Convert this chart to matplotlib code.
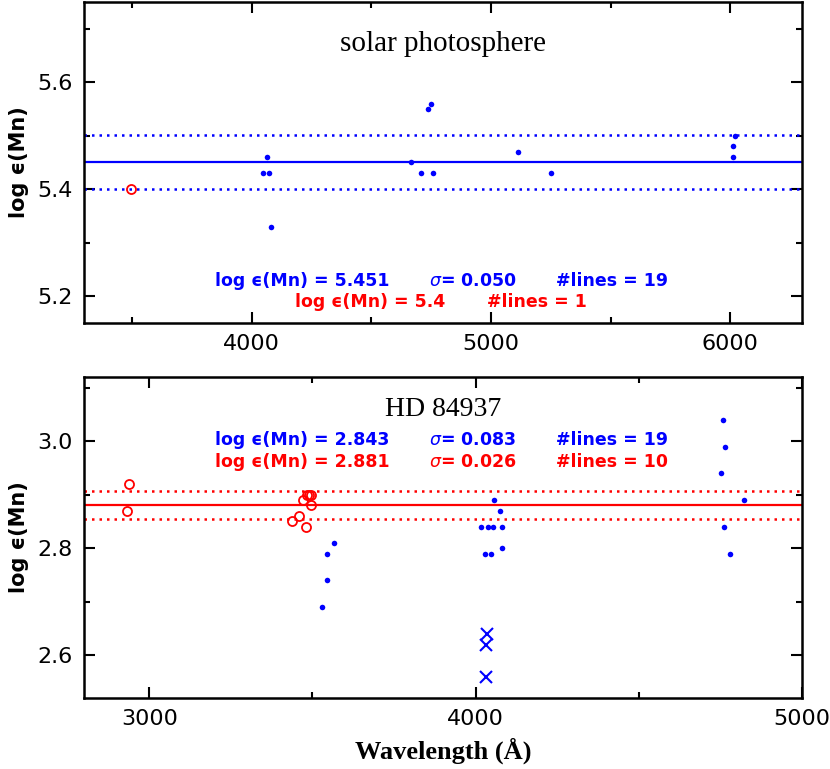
"""
Mn abundances vs wavelength - solar photosphere and HD 84937
"""
import matplotlib.pyplot as plt

# solar photosphere: Mn I (blue dots), Mn II (red circles)
sun_mn1_wave = [4049, 4066, 4074, 4080, 4666, 4707, 4736, 4750, 4760,
                5115, 5252, 6011, 6013, 6018]
sun_mn1_abund = [5.43, 5.46, 5.43, 5.33, 5.45, 5.43, 5.55, 5.56, 5.43,
                 5.47, 5.43, 5.48, 5.46, 5.50]
sun_mn2_wave = [3497]
sun_mn2_abund = [5.40]
sun_mean, sun_sigma = 5.451, 0.050

# HD 84937
hd_mn1_wave = [3529, 3545, 3545, 3566, 4015, 4030, 4037, 4046, 4054, 4057,
               4076, 4081, 4081, 4751, 4759, 4760, 4764, 4780, 4821]
hd_mn1_abund = [2.69, 2.74, 2.79, 2.81, 2.84, 2.79, 2.84, 2.79, 2.84, 2.89,
                2.87, 2.84, 2.80, 2.94, 3.04, 2.84, 2.99, 2.79, 2.89]
hd_res_wave = [4031, 4033, 4034]          # resonance triplet, excluded
hd_res_abund = [2.56, 2.62, 2.64]
hd_mn2_wave = [2931, 2937, 3438, 3458, 3470, 3480, 3482, 3488, 3494, 3494]
hd_mn2_abund = [2.87, 2.92, 2.85, 2.86, 2.89, 2.84, 2.90, 2.90, 2.90, 2.88]
hd_mean, hd_sigma = 2.881, 0.026

sun_texts = [("log ϵ(Mn) = 5.451", r"$\sigma$= 0.050", "#lines = 19"),
             ("log ϵ(Mn) = 5.4", None, "#lines = 1")]
hd_texts = [("log ϵ(Mn) = 2.843", r"$\sigma$= 0.083", "#lines = 19"),
            ("log ϵ(Mn) = 2.881", r"$\sigma$= 0.026", "#lines = 10")]

BLUE = '#0000ff'
RED = '#ff0000'
DOT = (0, (1, 2))
TXT = dict(fontsize=12.5, fontweight='bold', va='center')

fig = plt.figure(figsize=(8.3, 7.69), dpi=100)
ax1 = fig.add_axes([0.1012, 0.5800, 0.8651, 0.4174])
ax2 = fig.add_axes([0.1012, 0.0923, 0.8651, 0.4175])


def style(ax):
    ax.tick_params(which='both', direction='in', top=True, right=True,
                   width=1.5, labelsize=16, pad=8)
    ax.tick_params(which='major', length=8)
    ax.tick_params(which='minor', length=4)
    for s in ax.spines.values():
        s.set_linewidth(1.8)
    ax.set_ylabel('log ϵ(Mn)', fontsize=15, fontweight='bold', labelpad=6)


# --- top: solar photosphere
ax1.axhline(sun_mean, color=BLUE, lw=1.6)
ax1.axhline(sun_mean + sun_sigma, color=BLUE, lw=1.8, ls=DOT)
ax1.axhline(sun_mean - sun_sigma, color=BLUE, lw=1.8, ls=DOT)
ax1.plot(sun_mn1_wave, sun_mn1_abund, 'o', color=BLUE, ms=4, mew=0)
ax1.plot(sun_mn2_wave, sun_mn2_abund, 'o', mfc='none', mec=RED, ms=6.5, mew=1.3)
ax1.set_xlim(3300, 6300)
ax1.set_ylim(5.15, 5.75)
ax1.set_xticks([4000, 5000, 6000])
ax1.set_xticks([3500, 4500, 5500], minor=True)
ax1.set_yticks([5.2, 5.4, 5.6])
ax1.set_yticks([5.3, 5.5, 5.7], minor=True)
style(ax1)
ax1.text(0.5, 0.869, 'solar photosphere', transform=ax1.transAxes,
         ha='center', va='center', fontsize=21, family='Liberation Serif')
for (a, b, c), yy, col, xs in zip(sun_texts, [0.132, 0.066], [BLUE, RED],
                                  [(0.1825, 0.4805, 0.657), (0.294, None, 0.561)]):
    ax1.text(xs[0], yy, a, color=col, transform=ax1.transAxes, **TXT)
    if b:
        ax1.text(xs[1], yy, b, color=col, transform=ax1.transAxes, **TXT)
    ax1.text(xs[2], yy, c, color=col, transform=ax1.transAxes, **TXT)

# --- bottom: HD 84937
ax2.axhline(hd_mean, color=RED, lw=1.6)
ax2.axhline(hd_mean + hd_sigma, color=RED, lw=1.8, ls=DOT)
ax2.axhline(hd_mean - hd_sigma, color=RED, lw=1.8, ls=DOT)
ax2.plot(hd_mn1_wave, hd_mn1_abund, 'o', color=BLUE, ms=4, mew=0)
ax2.plot(hd_res_wave, hd_res_abund, 'x', color=BLUE, ms=9, mew=1.5)
ax2.plot(hd_mn2_wave, hd_mn2_abund, 'o', mfc='none', mec=RED, ms=6.5, mew=1.3)
ax2.set_xlim(2800, 5000)
ax2.set_ylim(2.52, 3.12)
ax2.set_xticks([3000, 4000, 5000])
ax2.set_xticks([3500, 4500], minor=True)
ax2.set_yticks([2.6, 2.8, 3.0])
ax2.set_yticks([2.7, 2.9, 3.1], minor=True)
style(ax2)
ax2.set_xlabel('Wavelength (Å)', fontsize=19, fontweight='bold',
               family='Liberation Serif', labelpad=6)
ax2.text(0.5, 0.900, 'HD 84937', transform=ax2.transAxes,
         ha='center', va='center', fontsize=20, family='Liberation Serif')
for (a, b, c), yy, col in zip(hd_texts, [0.804, 0.735], [BLUE, RED]):
    ax2.text(0.1825, yy, a, color=col, transform=ax2.transAxes, **TXT)
    ax2.text(0.4805, yy, b, color=col, transform=ax2.transAxes, **TXT)
    ax2.text(0.657, yy, c, color=col, transform=ax2.transAxes, **TXT)

fig.savefig('out.png', dpi=100)
